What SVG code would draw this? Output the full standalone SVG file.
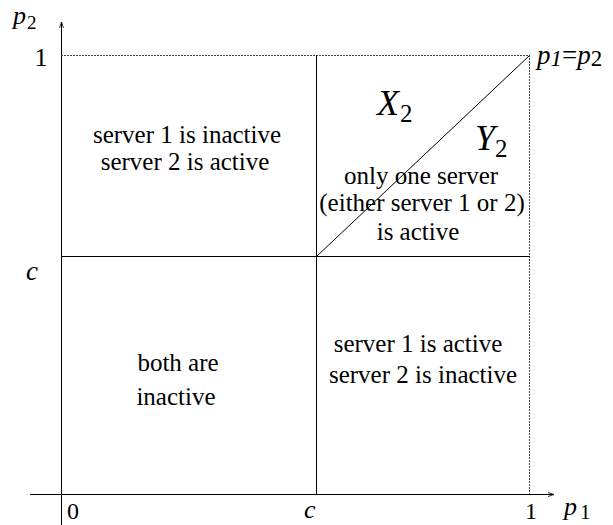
<svg xmlns="http://www.w3.org/2000/svg" width="613" height="525" viewBox="0 0 613 525">
<defs>
<style>
.ln{stroke:#000;stroke-width:1;fill:none}
.dash{stroke:#444;stroke-width:1;stroke-dasharray:2 1;fill:none}
text{font-family:"Liberation Serif","Times New Roman",serif;fill:#000}
.t{font-size:25px;text-anchor:middle}
.it{font-style:italic}
.m{text-anchor:middle}
</style>
<marker id="arr" viewBox="0 0 6 6" refX="6" refY="3" markerWidth="6" markerHeight="6" orient="auto" markerUnits="userSpaceOnUse">
<path d="M0,1 L6,3 L0,5" fill="none" stroke="#000" stroke-width="0.8"/>
</marker>
</defs>
<rect width="613" height="525" fill="#fff"/>
<g id="connectors">
<line class="ln" x1="61.5" y1="525" x2="61.5" y2="22" marker-end="url(#arr)"/>
<line class="ln" x1="30" y1="494.5" x2="554" y2="494.5" marker-end="url(#arr)"/>
<line class="dash" x1="61" y1="55.5" x2="529.5" y2="55.5"/>
<line class="dash" x1="529.5" y1="55" x2="529.5" y2="494"/>
<line class="ln" x1="316.5" y1="55" x2="316.5" y2="494"/>
<line class="ln" x1="61" y1="256.5" x2="529.5" y2="256.5"/>
<line class="ln" x1="316.5" y1="256.5" x2="529.5" y2="55.5"/>
</g>
<g id="axis-labels">
<text class="it" x="13" y="24" font-size="26">p</text><text x="27" y="29" font-size="19">2</text>
<text class="m" x="41" y="66" font-size="26">1</text>
<text class="it" x="26" y="280" font-size="27">c</text>
<text class="m" x="73" y="519" font-size="24">0</text>
<text class="it" x="304" y="518" font-size="26">c</text>
<text class="m" x="531" y="519" font-size="24">1</text>
<text class="it" x="564" y="515" font-size="26">p</text><text x="580" y="519" font-size="21">1</text>
<text class="it" x="537" y="64" font-size="27">p<tspan font-size="23" dy="2">1</tspan><tspan dy="-2" font-style="normal">=</tspan>p<tspan font-size="23" dy="2" font-style="normal">2</tspan></text>
</g>
<g id="region-top-left">
<text class="t" x="187" y="143">server 1 is inactive</text>
<text class="t" x="185" y="170">server 2 is active</text>
</g>
<g id="region-top-right">
<text class="it" x="377" y="115" font-size="36">X</text><text x="400" y="122" font-size="25">2</text>
<text class="it" x="475" y="150" font-size="36">Y</text><text x="495" y="157" font-size="25">2</text>
<text class="t" x="421" y="184">only one server</text>
<text class="t" x="422" y="211">(either server 1 or 2)</text>
<text class="t" x="418" y="240">is active</text>
</g>
<g id="region-bottom-left">
<text class="t" x="178" y="371">both are</text>
<text class="t" x="176" y="405">inactive</text>
</g>
<g id="region-bottom-right">
<text class="t" x="418" y="352">server 1 is active</text>
<text class="t" x="423" y="383">server 2 is inactive</text>
</g>
</svg>
